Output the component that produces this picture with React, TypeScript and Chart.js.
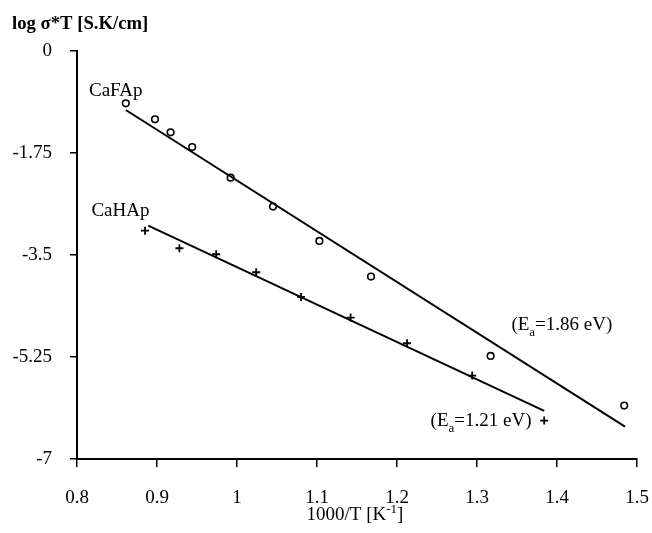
import React, { useEffect, useRef } from "react";
import { Chart, registerables } from "chart.js";

Chart.register(...registerables);

// ---- data ----
const xTicks = [0.8, 0.9, 1.0, 1.1, 1.2, 1.3, 1.4, 1.5];
const yTicks = [0, -1.75, -3.5, -5.25, -7];

const cafapX = [0.861, 0.8975, 0.917, 0.944, 0.992, 1.045, 1.103, 1.1675, 1.317, 1.484];
const cafapY = [-0.897, -1.172, -1.395, -1.647, -2.173, -2.67, -3.259, -3.871, -5.232, -6.084];

const cahapX = [0.885, 0.928, 0.974, 1.024, 1.08, 1.142, 1.2125, 1.294, 1.384];
const cahapY = [-3.082, -3.384, -3.487, -3.796, -4.22, -4.574, -5.014, -5.569, -6.341];

const cafapFitX = [0.861, 1.485];
const cafapFitY = [-1.012, -6.444];
const cahapFitX = [0.889, 1.384];
const cahapFitY = [-2.996, -6.175];

const seriesNames = ["CaFAp", "CaHAp"];
const energyLabels = ["1.86 eV", "1.21 eV"];

const SERIF = "'Liberation Serif', 'Times New Roman', serif";

const zip = (xs: number[], ys: number[]) => xs.map((x, i) => ({ x, y: ys[i] }));

const textPlugin = {
  id: "textPlugin",
  afterDraw(chart: any) {
    const { ctx, scales } = chart;
    const xs = scales.x;
    const ys = scales.y;
    const px = (v: number) => xs.getPixelForValue(v);
    const py = (v: number) => ys.getPixelForValue(v);
    ctx.save();
    ctx.fillStyle = "#000";
    ctx.textBaseline = "alphabetic";
    ctx.textAlign = "left";

    // y axis title
    ctx.font = `bold 18.7px ${SERIF}`;
    ctx.fillText("log σ*T [S.K/cm]", 12, 29);

    // series labels
    ctx.font = `19px ${SERIF}`;
    ctx.fillText(seriesNames[0], px(0.815), py(-0.772));
    ctx.fillText(seriesNames[1], px(0.818), py(-2.83));

    // activation energies with subscript
    const drawEa = (label: string, x: number, y: number) => {
      let cx = x;
      ctx.font = `19px ${SERIF}`;
      ctx.fillText("(E", cx, y);
      cx += ctx.measureText("(E").width;
      ctx.font = `13px ${SERIF}`;
      ctx.fillText("a", cx, y + 6);
      cx += ctx.measureText("a").width;
      ctx.font = `19px ${SERIF}`;
      ctx.fillText("=" + label + ")", cx, y);
    };
    drawEa(energyLabels[0], px(1.343), py(-4.786));
    drawEa(energyLabels[1], px(1.242), py(-6.432));

    // x axis title with superscript
    const main1 = "1000/T [K";
    const sup = "-1";
    const main2 = "]";
    ctx.font = `19px ${SERIF}`;
    const w1 = ctx.measureText(main1).width;
    const w3 = ctx.measureText(main2).width;
    ctx.font = `13px ${SERIF}`;
    const w2 = ctx.measureText(sup).width;
    const total = w1 + w2 + w3;
    const center = (chart.chartArea.left + chart.chartArea.right) / 2 - 2;
    let cx = center - total / 2;
    const by = 520;
    ctx.font = `19px ${SERIF}`;
    ctx.fillText(main1, cx, by);
    cx += w1;
    ctx.font = `13px ${SERIF}`;
    ctx.fillText(sup, cx, by - 7);
    cx += w2;
    ctx.font = `19px ${SERIF}`;
    ctx.fillText(main2, cx, by);
    ctx.restore();
  },
};

export default function App() {
  const ref = useRef<HTMLCanvasElement | null>(null);

  useEffect(() => {
    if (!ref.current) return;
    const chart = new Chart(ref.current, {
      type: "scatter",
      data: {
        datasets: [
          {
            label: "CaFAp fit",
            data: zip(cafapFitX, cafapFitY),
            showLine: true,
            borderColor: "#000",
            borderWidth: 2,
            pointRadius: 0,
          },
          {
            label: "CaHAp fit",
            data: zip(cahapFitX, cahapFitY),
            showLine: true,
            borderColor: "#000",
            borderWidth: 2,
            pointRadius: 0,
          },
          {
            label: "CaFAp",
            data: zip(cafapX, cafapY),
            pointStyle: "circle",
            pointRadius: 3.3,
            borderColor: "#000",
            backgroundColor: "rgba(0,0,0,0)",
            pointBorderWidth: 1.6,
          },
          {
            label: "CaHAp",
            data: zip(cahapX, cahapY),
            pointStyle: "cross",
            pointRadius: 4,
            borderColor: "#000",
            pointBorderWidth: 1.8,
          },
        ],
      },
      options: {
        animation: false,
        responsive: false,
        events: [],
        layout: { padding: { left: 0, right: 15, top: 51, bottom: 0 } },
        plugins: {
          legend: { display: false },
          tooltip: { enabled: false },
          title: { display: false },
        },
        scales: {
          x: {
            type: "linear",
            min: 0.8,
            max: 1.5,
            afterFit: (s: any) => {
              s.height = 74;
              s.paddingLeft = 0;
              s.paddingRight = 0;
            },
            afterBuildTicks: (s: any) => {
              s.ticks = xTicks.map((v) => ({ value: v }));
            },
            ticks: {
              color: "#000",
              padding: 20,
              font: { family: SERIF, size: 19 },
              callback: (v: any) => String(Math.round(Number(v) * 10) / 10),
            },
            grid: {
              drawOnChartArea: false,
              drawTicks: true,
              tickLength: 8,
              color: "#000",
              lineWidth: 1.5,
            },
            border: { display: true, color: "#000", width: 2 },
          },
          y: {
            type: "linear",
            min: -7,
            max: 0,
            afterFit: (s: any) => {
              s.width = 77;
              s.paddingTop = 0;
              s.paddingBottom = 0;
            },
            afterBuildTicks: (s: any) => {
              s.ticks = yTicks.map((v) => ({ value: v }));
            },
            ticks: {
              color: "#000",
              padding: 18,
              font: { family: SERIF, size: 19 },
              callback: (v: any) => String(Math.round(Number(v) * 100) / 100),
            },
            grid: {
              drawOnChartArea: false,
              drawTicks: true,
              tickLength: 7,
              color: "#000",
              lineWidth: 1.5,
            },
            border: { display: true, color: "#000", width: 2 },
          },
        },
      },
      plugins: [textPlugin],
    } as any);
    return () => chart.destroy();
  }, []);

  return (
    <div style={{ position: "absolute", left: 0, top: 0, width: 652, height: 533, background: "#fff" }}>
      <canvas ref={ref} width={652} height={533} style={{ display: "block" }} />
    </div>
  );
}
